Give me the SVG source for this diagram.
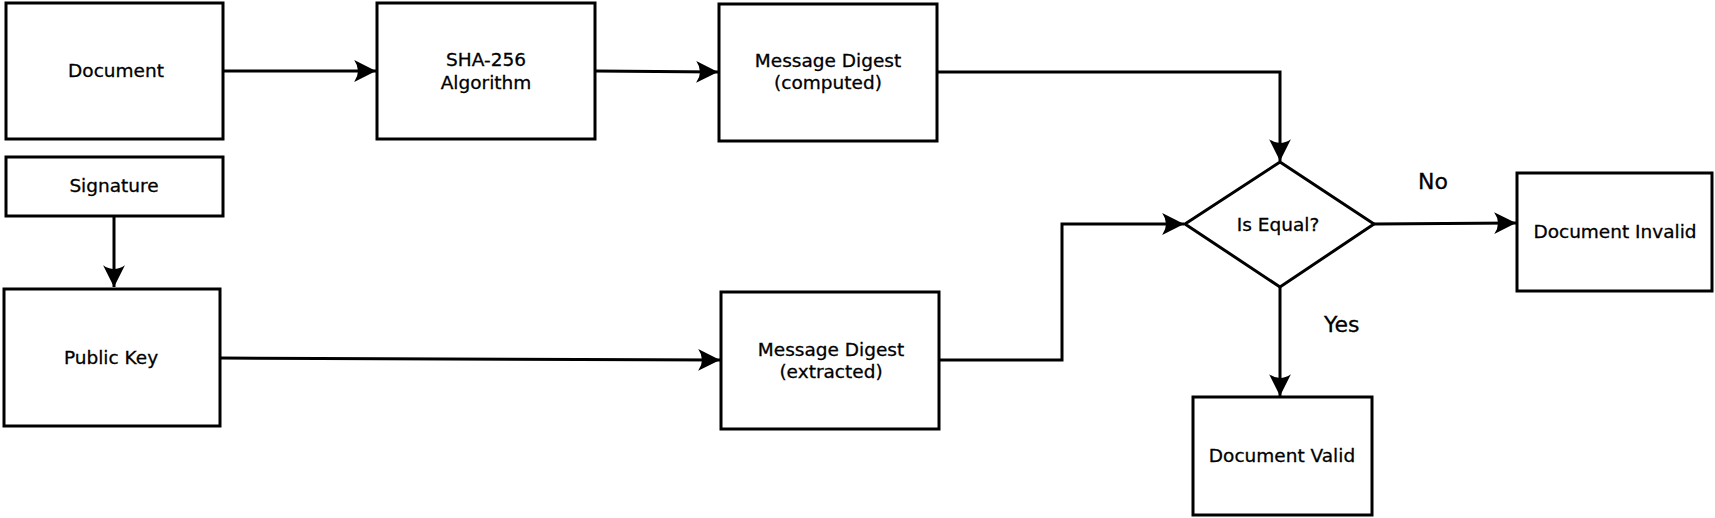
<svg xmlns="http://www.w3.org/2000/svg" width="1715" height="518" viewBox="0 0 1715 518">
<style>
.box{fill:#fff;stroke:#000;stroke-width:3}
.t{font-family:"DejaVu Sans",Verdana,sans-serif;font-size:18.5px;fill:#000;stroke:#000;stroke-width:0.3;text-anchor:middle}
.lbl{font-family:"DejaVu Sans",Verdana,sans-serif;font-size:22px;fill:#000;stroke:#000;stroke-width:0.3}
.c{fill:none;stroke:#000;stroke-width:3}
</style>
<defs>
<marker id="arr" markerUnits="userSpaceOnUse" markerWidth="24" markerHeight="24" viewBox="-20 -11 22 22" refX="0" refY="0" orient="auto">
<path d="M0,0 L-20,-10 Q-13,0 -20,10 Z" fill="#000"/>
</marker>
</defs>
<rect width="1715" height="518" fill="#fff"/>
<g id="connectors">
<path class="c" d="M223,71 L376,71" marker-end="url(#arr)"/>
<path class="c" d="M595,71 L718,72" marker-end="url(#arr)"/>
<path class="c" d="M937,72 L1280,72 L1280,161" marker-end="url(#arr)"/>
<path class="c" d="M114,216 L114,287" marker-end="url(#arr)"/>
<path class="c" d="M220,358 L720,360" marker-end="url(#arr)"/>
<path class="c" d="M939,360 L1062,360 L1062,224 L1184,224" marker-end="url(#arr)"/>
<path class="c" d="M1374,224 L1516,223" marker-end="url(#arr)"/>
<path class="c" d="M1280,287 L1280,396" marker-end="url(#arr)"/>
</g>
<g id="document"><rect class="box" x="6" y="3" width="217" height="136"/><text class="t" x="116" y="77">Document</text></g>
<g id="signature"><rect class="box" x="6" y="157" width="217" height="59"/><text class="t" x="114" y="192">Signature</text></g>
<g id="publickey"><rect class="box" x="4" y="289" width="216" height="137"/><text class="t" x="111" y="364">Public Key</text></g>
<g id="sha"><rect class="box" x="377" y="3" width="218" height="136"/><text class="t" x="486" y="66">SHA-256</text><text class="t" x="486" y="89">Algorithm</text></g>
<g id="mdcomputed"><rect class="box" x="719" y="4" width="218" height="137"/><text class="t" x="828" y="67">Message Digest</text><text class="t" x="828" y="89">(computed)</text></g>
<g id="mdextracted"><rect class="box" x="721" y="292" width="218" height="137"/><text class="t" x="831" y="356">Message Digest</text><text class="t" x="831" y="378">(extracted)</text></g>
<g id="isequal"><polygon class="box" points="1280,162 1374,224 1280,287 1185,224"/><text class="t" x="1278" y="231">Is Equal?</text></g>
<g id="invalid"><rect class="box" x="1517" y="173" width="195" height="118"/><text class="t" x="1615" y="238">Document Invalid</text></g>
<g id="valid"><rect class="box" x="1193" y="397" width="179" height="118"/><text class="t" x="1282" y="462">Document Valid</text></g>
<text class="lbl" x="1418" y="189">No</text>
<text class="lbl" x="1324" y="332">Yes</text>
</svg>
